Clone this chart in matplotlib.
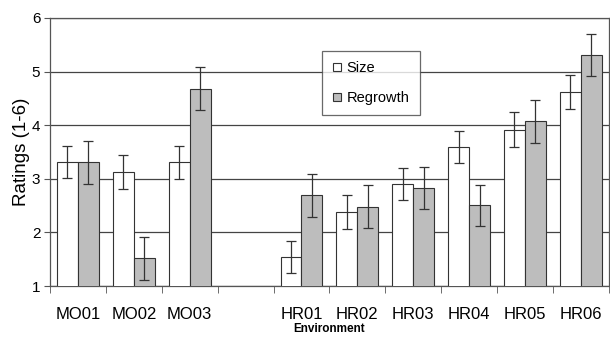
import numpy as np
import matplotlib.pyplot as plt
from matplotlib.patches import Patch

plt.rcParams['font.family'] = ['Liberation Sans', 'DejaVu Sans']

# slot labels; the empty slot is the gap between the two groups
environments = ["MO01", "MO02", "MO03", "", "HR01", "HR02", "HR03", "HR04", "HR05", "HR06"]
size_mean = [3.31, 3.13, 3.31, np.nan, 1.55, 2.38, 2.90, 3.59, 3.92, 4.62]
size_err = [0.30, 0.32, 0.31, np.nan, 0.30, 0.32, 0.30, 0.30, 0.32, 0.32]
regrowth_mean = [3.31, 1.52, 4.68, np.nan, 2.69, 2.48, 2.83, 2.51, 4.07, 5.31]
regrowth_err = [0.40, 0.40, 0.40, np.nan, 0.40, 0.40, 0.40, 0.38, 0.40, 0.40]

fig = plt.figure(figsize=(6.1, 3.39), dpi=100)
ax = fig.add_axes([0.082, 0.156, 0.916, 0.791])

x = np.arange(len(environments))
w = 0.375
err_kw = dict(ecolor="#333333", elinewidth=0.9, capsize=3.5, capthick=0.9)
ax.bar(x - w / 2, size_mean, w, yerr=size_err, color="white", edgecolor="#333333",
       linewidth=0.8, error_kw=err_kw, zorder=3)
ax.bar(x + w / 2, regrowth_mean, w, yerr=regrowth_err, color="#bdbdbd", edgecolor="#333333",
       linewidth=0.8, error_kw=err_kw, zorder=3)

ax.set_xlim(-0.5, len(environments) - 0.5)
ax.set_ylim(1, 6)
ax.set_yticks(range(1, 7))
ax.yaxis.grid(True, color="#444444", linewidth=0.9, zorder=0)
ax.set_axisbelow(True)

# labels centred in slots, tick marks on slot boundaries
ax.set_xticks(x)
ax.set_xticklabels(environments, fontsize=12)
ax.tick_params(axis="x", which="major", length=0, pad=15)
ax.set_xticks(np.arange(-0.5, len(environments)), minor=True)
ax.tick_params(axis="x", which="minor", length=5, color="#555555", direction="out")
ax.tick_params(axis="y", labelsize=11, length=4, color="#555555", pad=3)

for s in ax.spines.values():
    s.set_color("#555555")
    s.set_linewidth(0.9)

ax.set_ylabel("Ratings (1-6)", fontsize=13.5, labelpad=1)
ax.set_xlabel("Environment", fontsize=8.5, fontweight="bold", labelpad=1)

handles = [Patch(facecolor="white", edgecolor="#333333", linewidth=0.8, label="Size"),
           Patch(facecolor="#bdbdbd", edgecolor="#333333", linewidth=0.8, label="Regrowth")]
leg = ax.legend(handles=handles, loc="upper left", bbox_to_anchor=(0.4875, 0.877),
                fontsize=10.5, frameon=True, fancybox=False, handlelength=0.55,
                handleheight=0.55, handletextpad=0.4, labelspacing=1.1,
                borderpad=0.7, borderaxespad=0)
leg.get_frame().set_edgecolor("#444444")
leg.get_frame().set_linewidth(0.9)
leg.set_zorder(5)

fig.savefig("out.png", dpi=100)
